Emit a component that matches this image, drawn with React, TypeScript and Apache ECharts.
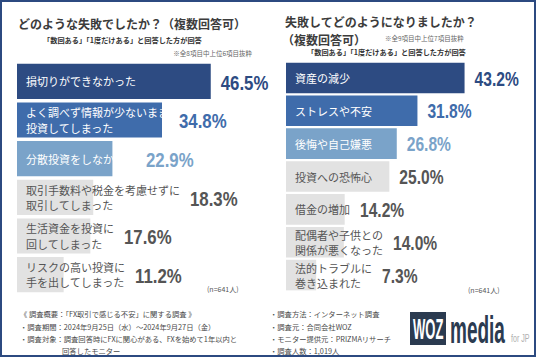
import React, { useEffect, useRef } from 'react';
import * as echarts from 'echarts';

const leftCategories = [
  '損切りができなかった',
  'よく調べず情報が少ないまま\n投資してしまった',
  '分散投資をしなかった',
  '取引手数料や税金を考慮せずに\n取引してしまった',
  '生活資金を投資に\n回してしまった',
  'リスクの高い投資に\n手を出してしまった',
];
const leftValues = [46.5, 34.8, 22.9, 18.3, 17.6, 11.2];

const rightCategories = [
  '資産の減少',
  'ストレスや不安',
  '後悔や自己嫌悪',
  '投資への恐怖心',
  '借金の増加',
  '配偶者や子供との\n関係が悪くなった',
  '法的トラブルに\n巻き込まれた',
];
const rightValues = [43.2, 31.8, 26.8, 25.0, 14.2, 14.0, 7.3];

const leftTitle = 'どのような失敗でしたか？（複数回答可）';
const rightTitle1 = '失敗してどのようになりましたか？';
const rightTitle2 = '（複数回答可）';
const subTitle = '「数回ある」「1度だけある」と回答した方が回答';
const leftNote = '※全8項目中上位6項目抜粋';
const rightNote = '※全9項目中上位7項目抜粋';
const sampleNote = '(n=641人)';
const footerLeft = [
  '《 調査概要：「FX取引で感じる不安」に関する調査 》',
  '・調査期間：2024年9月25日（水）～2024年9月27日（金）',
  '・調査対象：調査回答時にFXに関心がある、FXを始めて1年以内と',
  '回答したモニター',
];
const footerRight = [
  '・調査方法：インターネット調査',
  '・調査元：合同会社WOZ',
  '・モニター提供元：PRIZMAリサーチ',
  '・調査人数：1,019人',
];

const rankColors = ['#2d4b82', '#3f6cab', '#7aa3c9'];
const otherBar = '#e2e2e2';
const otherText = '#555555';
const CJK = '"Noto Sans CJK JP", "Noto Sans", sans-serif';
const NUM = '"Liberation Sans", Arial, sans-serif';

let measureCtx: CanvasRenderingContext2D | null = null;
function textWidth(s: string, font: string): number {
  if (!measureCtx) measureCtx = document.createElement('canvas').getContext('2d');
  if (!measureCtx) return s.length * 11;
  measureCtx.font = font;
  return Math.max(...s.split('\n').map((l) => measureCtx!.measureText(l).width));
}

function makeRender(cats: string[], opt: { ratio: number; valSize: number; catSize: number; lh: number }) {
  return (params: any, api: any) => {
    const v = api.value(0);
    const ci = api.value(1);
    const rank = params.dataIndex;
    const start = api.coord([0, ci]);
    const end = api.coord([v, ci]);
    const band = api.size([0, 1])[1];
    const h = band * opt.ratio;
    const top = rank < 3;
    const catX = start[0] + 9;
    const catFont = `${opt.catSize}px ${CJK}`;
    const catW = textWidth(cats[ci], catFont);
    const valX = Math.max(end[0], catX + catW) + 10;
    return {
      type: 'group',
      children: [
        {
          type: 'rect',
          shape: { x: start[0], y: end[1] - h / 2, width: end[0] - start[0], height: h },
          style: { fill: top ? rankColors[rank] : otherBar },
        },
        {
          type: 'text',
          x: catX,
          y: end[1],
          style: {
            text: cats[ci],
            fill: top ? '#ffffff' : otherText,
            fontSize: opt.catSize,
            fontFamily: CJK,
            lineHeight: opt.lh,
            align: 'left',
            verticalAlign: 'middle',
            textAlign: 'left',
            textVerticalAlign: 'middle',
          },
        },
        {
          type: 'text',
          x: valX,
          y: end[1] + 1,
          scaleX: 0.8,
          style: {
            text: v.toFixed(1) + '%',
            fill: top ? rankColors[rank] : otherText,
            fontSize: opt.valSize,
            fontWeight: 'bold',
            fontFamily: NUM,
            align: 'left',
            verticalAlign: 'middle',
            textAlign: 'left',
            textVerticalAlign: 'middle',
          },
        },
      ],
    };
  };
}

function txt(text: string, x: number, y: number, size: number, color: string, extra: any = {}) {
  return {
    type: 'text',
    x,
    y,
    ...(extra.el || {}),
    style: {
      text,
      fill: color,
      fontSize: size,
      fontFamily: CJK,
      align: 'left',
      verticalAlign: 'middle',
      textAlign: 'left',
      textVerticalAlign: 'middle',
      ...(extra.style || {}),
    },
  };
}

export default function App() {
  const ref = useRef<HTMLDivElement>(null);
  useEffect(() => {
    if (!ref.current) return;
    const chart = echarts.init(ref.current, null, { renderer: 'svg' });
    const footer: any[] = [];
    const fy = [314, 327, 339, 351];
    footerLeft.forEach((t, i) => footer.push(txt(t, i === 3 ? 62 : 20, fy[i], 7.3, '#4a4a4a')));
    footerRight.forEach((t, i) => footer.push(txt(t, 270, fy[i], 7.3, '#4a4a4a')));

    chart.setOption({
      animation: false,
      backgroundColor: '#ffffff',
      grid: [
        { left: 17, top: 62, width: 250, height: 232 },
        { left: 286, top: 61.5, width: 248, height: 230 },
      ],
      xAxis: [
        { type: 'value', gridIndex: 0, min: 0, max: 60, show: false },
        { type: 'value', gridIndex: 1, min: 0, max: 60, show: false },
      ],
      yAxis: [
        { type: 'category', gridIndex: 0, inverse: true, data: leftCategories, show: false },
        { type: 'category', gridIndex: 1, inverse: true, data: rightCategories, show: false },
      ],
      series: [
        {
          type: 'custom',
          xAxisIndex: 0,
          yAxisIndex: 0,
          renderItem: makeRender(leftCategories, { ratio: 0.91, valSize: 21, catSize: 11, lh: 15.5 }),
          data: leftValues.map((v, i) => [v, i]),
        },
        {
          type: 'custom',
          xAxisIndex: 1,
          yAxisIndex: 1,
          renderItem: makeRender(rightCategories, { ratio: 0.93, valSize: 19.5, catSize: 11, lh: 15 }),
          data: rightValues.map((v, i) => [v, i]),
        },
      ],
      graphic: [
        {
          type: 'rect',
          shape: { x: 1, y: 1, width: 534, height: 355 },
          style: { fill: 'none', stroke: '#2c4a80', lineWidth: 2 },
        },
        txt(leftTitle, 18, 23, 12, '#3c3c3c', { style: { fontWeight: 'bold' } }),
        txt(subTitle, 43, 40, 7.2, '#333', { style: { fontWeight: 'bold' } }),
        txt(leftNote, 252, 53, 6.5, '#666', { style: { align: 'right', textAlign: 'right' } }),
        txt(rightTitle1, 285, 21, 12, '#3c3c3c', { style: { fontWeight: 'bold' } }),
        txt(rightTitle2, 282, 39, 12, '#3c3c3c', { style: { fontWeight: 'bold' } }),
        txt(rightNote, 385, 38, 6.5, '#666'),
        txt(subTitle, 307, 52, 7.2, '#333', { style: { fontWeight: 'bold' } }),
        txt(sampleNote, 207, 289, 7, '#555'),
        txt(sampleNote, 468, 290, 7, '#555'),
        ...footer,
        { type: 'rect', shape: { x: 410, y: 312, width: 36, height: 33 }, style: { fill: '#2b3b50' } },
        txt('WOZ', 413, 329.5, 29, '#ffffff', { el: { scaleX: 0.45 }, style: { fontFamily: NUM, fontWeight: 'bold' } }),
        txt('media', 450, 329.5, 38, '#2b3b50', { el: { scaleX: 0.5 }, style: { fontFamily: NUM, fontWeight: 'bold' } }),
        txt('for JP', 511, 338, 11.5, '#b0b0b0', { el: { scaleX: 0.62 }, style: { fontFamily: NUM } }),
      ],
    });
    return () => chart.dispose();
  }, []);
  return (
    <div
      ref={ref}
      style={{ position: 'fixed', left: 0, top: 0, width: 536, height: 357 }}
    />
  );
}
